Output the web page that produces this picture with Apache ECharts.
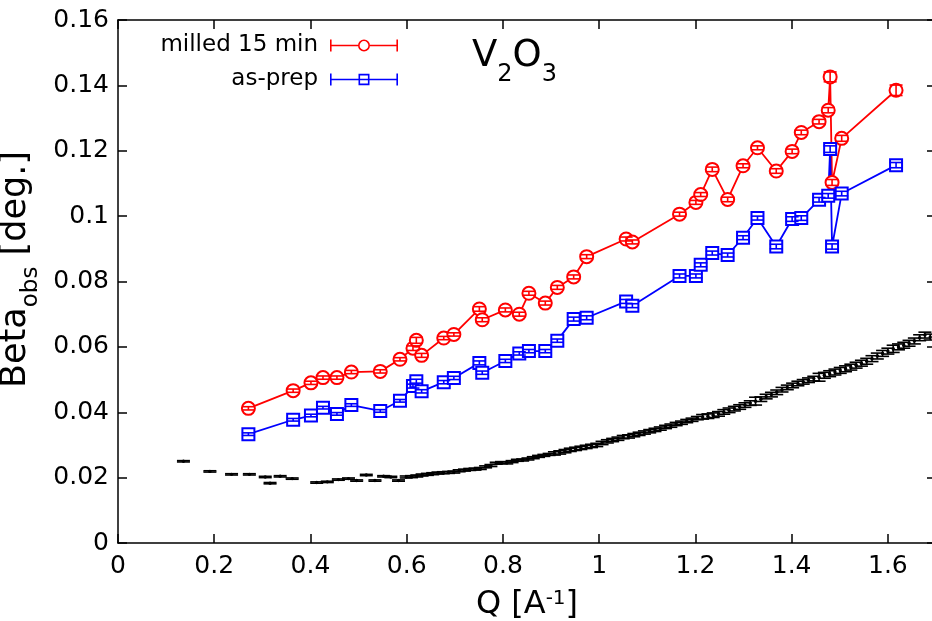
<!DOCTYPE html>
<html><head><meta charset="utf-8">
<script src="https://cdn.jsdelivr.net/npm/echarts/dist/echarts.min.js"></script>
<style>html,body{margin:0;padding:0;background:#fff}#c{width:932px;height:621px}</style>
</head><body><div id="c"></div>
<script>
// ---- data ----
const q = [0.271, 0.364, 0.401, 0.426, 0.455, 0.485, 0.545, 0.586, 0.613, 0.620,
  0.631, 0.677, 0.698, 0.751, 0.757, 0.805, 0.834, 0.854, 0.888, 0.913,
  0.947, 0.974, 1.056, 1.069, 1.167, 1.201, 1.211, 1.235, 1.267, 1.299,
  1.329, 1.368, 1.401, 1.420, 1.457, 1.476, 1.480, 1.484, 1.504, 1.617];
const milled = [0.0412, 0.0466, 0.0490, 0.0506, 0.0506, 0.0523, 0.0525, 0.0562, 0.0596, 0.0620,
  0.0574, 0.0627, 0.0638, 0.0716, 0.0683, 0.0713, 0.0700, 0.0764, 0.0734, 0.0782,
  0.0814, 0.0876, 0.0930, 0.0921, 0.1006, 0.1042, 0.1066, 0.1143, 0.1051, 0.1154,
  0.1209, 0.1138, 0.1198, 0.1256, 0.1289, 0.1324, 0.1426, 0.1103, 0.1238, 0.1385];
const milledErr = [0.0005, 0.0005, 0.0005, 0.0005, 0.0005, 0.0005, 0.0005, 0.0005, 0.0007, 0.0009,
  0.0006, 0.0005, 0.0005, 0.0007, 0.0006, 0.0006, 0.0006, 0.0006, 0.0006, 0.0006,
  0.0006, 0.0006, 0.0006, 0.0006, 0.0006, 0.0006, 0.0006, 0.0007, 0.0007, 0.0006,
  0.0006, 0.0007, 0.0007, 0.0007, 0.0007, 0.0008, 0.0015, 0.0009, 0.0009, 0.0016];
const asPrep = [0.0333, 0.0377, 0.0390, 0.0414, 0.0395, 0.0422, 0.0404, 0.0435, 0.0480, 0.0495,
  0.0464, 0.0492, 0.0505, 0.0551, 0.0521, 0.0557, 0.0580, 0.0587, 0.0587, 0.0619,
  0.0685, 0.0689, 0.0739, 0.0726, 0.0817, 0.0817, 0.0851, 0.0887, 0.0881, 0.0934,
  0.0994, 0.0907, 0.0991, 0.0994, 0.1050, 0.1062, 0.1205, 0.0907, 0.1069, 0.1156];
const asPrepErr = [0.0004, 0.0004, 0.0004, 0.0004, 0.0004, 0.0004, 0.0004, 0.0004, 0.0006, 0.0006,
  0.0005, 0.0005, 0.0005, 0.0006, 0.0005, 0.0005, 0.0005, 0.0005, 0.0005, 0.0005,
  0.0006, 0.0006, 0.0006, 0.0006, 0.0006, 0.0006, 0.0006, 0.0006, 0.0006, 0.0006,
  0.0006, 0.0007, 0.0007, 0.0007, 0.0007, 0.0007, 0.0010, 0.0008, 0.0007, 0.0008];
const refQ = [0.136, 0.191, 0.236, 0.273, 0.306, 0.316, 0.337, 0.362, 0.413, 0.435,
  0.458, 0.479, 0.496, 0.516, 0.534, 0.552, 0.567, 0.583,
  0.599, 0.610, 0.621, 0.632, 0.643, 0.654, 0.665, 0.676, 0.687, 0.698,
  0.709, 0.720, 0.731, 0.742, 0.753, 0.764, 0.775, 0.786, 0.797, 0.808,
  0.819, 0.830, 0.841, 0.852, 0.863, 0.874, 0.885, 0.896, 0.907, 0.918,
  0.929, 0.940, 0.951, 0.962, 0.973, 0.984, 0.995, 1.006, 1.017, 1.028,
  1.039, 1.050, 1.061, 1.072, 1.083, 1.094, 1.105, 1.116, 1.127, 1.138,
  1.149, 1.160, 1.171, 1.182, 1.193, 1.204, 1.215, 1.226, 1.237, 1.248,
  1.259, 1.270, 1.281, 1.292, 1.303, 1.314, 1.325, 1.336, 1.347, 1.358,
  1.369, 1.380, 1.391, 1.402, 1.413, 1.424, 1.435, 1.446, 1.457, 1.468,
  1.479, 1.490, 1.501, 1.512, 1.523, 1.534, 1.545, 1.556, 1.567, 1.578,
  1.589, 1.600, 1.611, 1.622, 1.633, 1.644, 1.655, 1.666, 1.677, 1.688];
const refBeta = [0.0250, 0.0219, 0.0210, 0.0210, 0.0202, 0.0183, 0.0204, 0.0197, 0.0185, 0.0187,
  0.0194, 0.0197, 0.0191, 0.0208, 0.0191, 0.0204, 0.0202, 0.0191,
  0.0202, 0.0203, 0.0205, 0.0208, 0.0210, 0.0212, 0.0214, 0.0215, 0.0216, 0.0217,
  0.0221, 0.0223, 0.0225, 0.0226, 0.0228, 0.0233, 0.0237, 0.0244, 0.0246, 0.0245,
  0.0249, 0.0253, 0.0254, 0.0257, 0.0261, 0.0265, 0.0268, 0.0271, 0.0274, 0.0277,
  0.0281, 0.0285, 0.0288, 0.0291, 0.0294, 0.0297, 0.0300, 0.0306, 0.0311, 0.0315,
  0.0319, 0.0324, 0.0326, 0.0330, 0.0334, 0.0338, 0.0342, 0.0346, 0.0350, 0.0355,
  0.0359, 0.0364, 0.0368, 0.0373, 0.0377, 0.0382, 0.0386, 0.0388, 0.0391, 0.0395,
  0.0401, 0.0406, 0.0411, 0.0416, 0.0422, 0.0428, 0.0434, 0.0440, 0.0448, 0.0454,
  0.0461, 0.0469, 0.0476, 0.0482, 0.0488, 0.0493, 0.0498, 0.0503, 0.0507, 0.0513,
  0.0518, 0.0523, 0.0528, 0.0533, 0.0538, 0.0544, 0.0550, 0.0556, 0.0564, 0.0572,
  0.0580, 0.0587, 0.0594, 0.0600, 0.0605, 0.0611, 0.0618, 0.0628, 0.0636, 0.0630];
const refErr = [0.0002, 0.0002, 0.0002, 0.0002, 0.0002, 0.0002, 0.0002, 0.0002, 0.0002, 0.0002,
  0.0002, 0.0002, 0.0002, 0.0002, 0.0002, 0.0002, 0.0002, 0.0002,
  0.0003, 0.0003, 0.0003, 0.0003, 0.0003, 0.0003, 0.0003, 0.0003, 0.0003, 0.0003,
  0.0003, 0.0003, 0.0003, 0.0003, 0.0003, 0.0003, 0.0003, 0.0003, 0.0003, 0.0003,
  0.0003, 0.0003, 0.0003, 0.0003, 0.0003, 0.0003, 0.0003, 0.0003, 0.0005, 0.0005,
  0.0005, 0.0005, 0.0005, 0.0005, 0.0005, 0.0005, 0.0005, 0.0005, 0.0005, 0.0005,
  0.0005, 0.0005, 0.0005, 0.0005, 0.0005, 0.0005, 0.0005, 0.0005, 0.0005, 0.0005,
  0.0005, 0.0005, 0.0005, 0.0005, 0.0005, 0.0005, 0.0007, 0.0007, 0.0007, 0.0007,
  0.0007, 0.0007, 0.0007, 0.0007, 0.0007, 0.0007, 0.0012, 0.0007, 0.0007, 0.0007,
  0.0007, 0.0007, 0.0007, 0.0007, 0.0007, 0.0007, 0.0007, 0.0007, 0.0012, 0.0009,
  0.0009, 0.0009, 0.0009, 0.0009, 0.0009, 0.0009, 0.0009, 0.0009, 0.0009, 0.0009,
  0.0009, 0.0009, 0.0011, 0.0009, 0.0009, 0.0009, 0.0009, 0.0009, 0.0009, 0.0009];
const xTickStep = 0.2, yTickStep = 0.02;
const seriesNames = ['milled 15 min', 'as-prep'];

// ---- chart ----
const F = "'DejaVu Sans', Verdana, sans-serif";
const chart = echarts.init(document.getElementById('c'), null, {renderer: 'canvas'});

function errRender(capHalf, lw, dot) {
  return function (params, api) {
    const x = api.value(0), y = api.value(1), e = api.value(2);
    const lo = api.coord([x, y - e]), hi = api.coord([x, y + e]), c0 = api.coord([x, y]);
    const color = api.visual('color');
    const st = {stroke: color, lineWidth: lw, fill: null};
    const ch = [
      {type: 'line', shape: {x1: lo[0], y1: lo[1], x2: hi[0], y2: hi[1]}, style: st},
      {type: 'line', shape: {x1: lo[0] - capHalf, y1: lo[1], x2: lo[0] + capHalf, y2: lo[1]}, style: st},
      {type: 'line', shape: {x1: hi[0] - capHalf, y1: hi[1], x2: hi[0] + capHalf, y2: hi[1]}, style: st}
    ];
    if (dot) ch.push({type: 'circle', shape: {cx: c0[0], cy: c0[1], r: 1.7}, style: {fill: color}});
    return {type: 'group', children: ch};
  };
}

const circIcon = 'path://M0,5.2L28,5.2L28,6.8L0,6.8Z M40,5.2L68,5.2L68,6.8L40,6.8Z M0,0L1.6,0L1.6,12L0,12Z M66.4,0L68,0L68,12L66.4,12Z M40,6A6,6 0 1 1 28,6A6,6 0 1 1 40,6Z M38.4,6A4.4,4.4 0 1 0 29.6,6A4.4,4.4 0 1 0 38.4,6Z';
const rectIcon = 'path://M0,5.2L68,5.2L68,6.8L0,6.8Z M0,0L1.6,0L1.6,12L0,12Z M66.4,0L68,0L68,12L66.4,12Z M28.5,0.3L39.5,0.3L39.5,11.7L28.5,11.7Z M30.1,1.9L30.1,10.1L37.9,10.1L37.9,1.9Z';

const axisCommon = {
  type: 'value',
  axisLine: {show: true, onZero: false, lineStyle: {color: '#000', width: 1.5}},
  axisTick: {show: true, inside: true, length: 9, lineStyle: {color: '#000', width: 1.5}},
  splitLine: {show: false},
  minorTick: {show: false}
};

const option = {
  backgroundColor: '#fff',
  animation: false,
  grid: {left: 118, right: -4, top: 20, bottom: 78, containLabel: false, outerBoundsMode: 'none'},
  title: {
    text: '{n|V}{s|2}{n|O}{s|3}',
    left: 467, top: 33,
    textStyle: {
      fontWeight: 'normal',
      rich: {
        n: {fontSize: 37, fontFamily: F, color: '#000', fontWeight: 'normal', verticalAlign: 'top'},
        s: {fontSize: 24, fontFamily: F, color: '#000', fontWeight: 'normal', verticalAlign: 'bottom', padding: [25, 0, 0, 0]}
      }
    }
  },
  legend: [
    {data: [{name: seriesNames[0], icon: circIcon}], right: 534, top: 34, align: 'right', orient: 'vertical',
      itemWidth: 68, itemHeight: 12, selectedMode: false, padding: 0,
      itemStyle: {borderWidth: 0}, lineStyle: {width: 0},
      textStyle: {fontSize: 23, fontFamily: F, color: '#000', padding: [0, 7, 0, 0]}},
    {data: [{name: seriesNames[1], icon: rectIcon}], right: 534, top: 68, align: 'right', orient: 'vertical',
      itemWidth: 68, itemHeight: 12, selectedMode: false, padding: 0,
      itemStyle: {borderWidth: 0}, lineStyle: {width: 0},
      textStyle: {fontSize: 23, fontFamily: F, color: '#000', padding: [0, 7, 0, 0]}}
  ],
  xAxis: [
    Object.assign({}, axisCommon, {
      position: 'bottom', min: 0, max: 1.7, interval: xTickStep,
      axisLabel: {color: '#000', fontSize: 25, fontFamily: F, margin: 11, showMaxLabel: false},
      name: '{n|Q [A}{p|-1}{n|]}', nameLocation: 'middle', nameGap: 46,
      nameTextStyle: {rich: {
        n: {fontSize: 32, fontFamily: F, color: '#000', verticalAlign: 'bottom'},
        p: {fontSize: 20, fontFamily: F, color: '#000', verticalAlign: 'top'}
      }}
    }),
    Object.assign({}, axisCommon, {
      position: 'top', min: 0, max: 1.7, interval: xTickStep,
      axisLabel: {show: false}
    })
  ],
  yAxis: [
    Object.assign({}, axisCommon, {
      position: 'left', min: 0, max: 0.16, interval: yTickStep,
      axisLabel: {color: '#000', fontSize: 25, fontFamily: F, margin: 9},
      name: '{n|Beta}{s|obs}{n| [deg.]}', nameLocation: 'middle', nameGap: 60, nameRotate: 90,
      nameTextStyle: {padding: [0, 0, 0, 24], rich: {
        n: {fontSize: 35, fontFamily: F, color: '#000', verticalAlign: 'top'},
        s: {fontSize: 23, fontFamily: F, color: '#000', verticalAlign: 'bottom', padding: [21, 0, 0, 0]}
      }}
    }),
    Object.assign({}, axisCommon, {
      position: 'right', min: 0, max: 0.16, interval: yTickStep,
      axisLabel: {show: false}
    })
  ],
  series: [
    {name: seriesNames[0], type: 'line', data: q.map((x, i) => [x, milled[i]]),
      symbol: 'emptyCircle', symbolSize: 13, color: '#ff0000', z: 3,
      lineStyle: {width: 1.8, color: '#ff0000'}, itemStyle: {color: '#ff0000', borderWidth: 1.8}},
    {name: seriesNames[1], type: 'line', data: q.map((x, i) => [x, asPrep[i]]),
      symbol: 'emptyRect', symbolSize: 12, color: '#0000ff', z: 3,
      lineStyle: {width: 1.8, color: '#0000ff'}, itemStyle: {color: '#0000ff', borderWidth: 1.8}},
    {name: 'errMilled', type: 'custom', renderItem: errRender(6.5, 1.6, false), color: '#ff0000', z: 4, silent: true,
      encode: {x: 0, y: 1}, data: q.map((x, i) => [x, milled[i], milledErr[i]])},
    {name: 'errAsPrep', type: 'custom', renderItem: errRender(6.5, 1.6, false), color: '#0000ff', z: 4, silent: true,
      encode: {x: 0, y: 1}, data: q.map((x, i) => [x, asPrep[i], asPrepErr[i]])},
    {name: 'reference', type: 'custom', renderItem: errRender(6.5, 1.6, true), color: '#000', z: 2, silent: true,
      encode: {x: 0, y: 1}, data: refQ.map((x, i) => [x, refBeta[i], refErr[i]])}
  ]
};
chart.setOption(option);
</script>
</body></html>
